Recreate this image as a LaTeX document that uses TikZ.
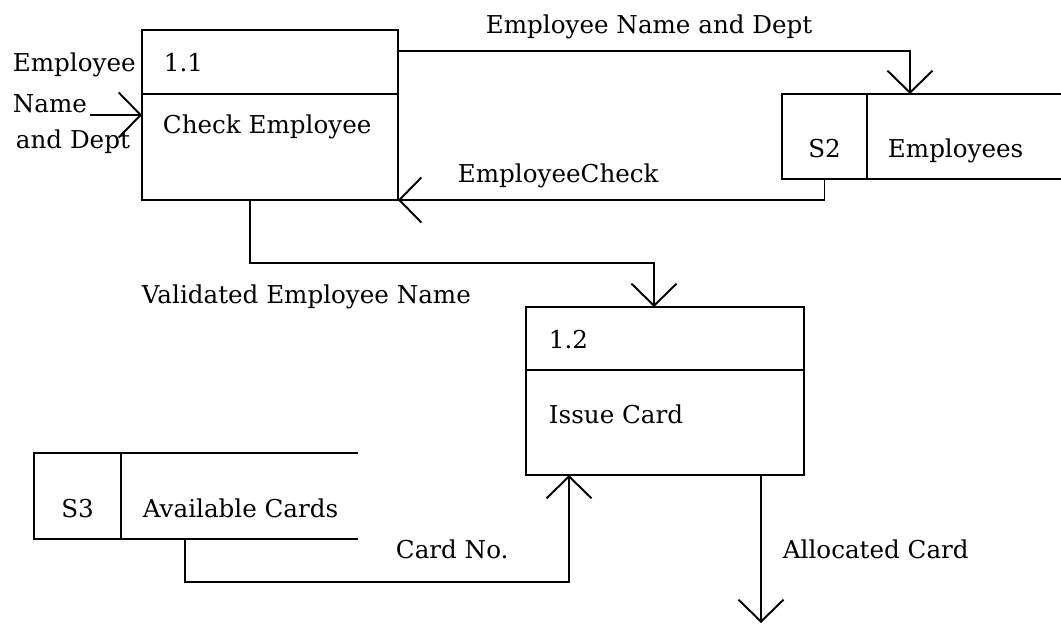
\documentclass[tikz,border=0pt]{standalone}
\usepackage{fontspec}
\setmainfont{DejaVu Serif}
\usetikzlibrary{arrows.meta, positioning}

\begin{document}
\begin{tikzpicture}[x=0.02cm, y=-0.02cm, line width=1.1pt,
  proc/.style={draw, rectangle, inner sep=0pt, outer sep=0pt},
  cell/.style={draw, rectangle, inner sep=0pt, outer sep=0pt, minimum height=1.7cm},
  flow/.style={-{Straight Barb[length=0.44cm, width=0.9cm, line width=1.1pt]}},
  lbl/.style={inner sep=0pt, anchor=base west, font=\fontsize{14pt}{16pt}\selectfont}]
  \useasboundingbox (0,0) rectangle (1061,626);

  % Check Employee
  \node[proc, minimum width=5.12cm, minimum height=3.4cm] (p11) at (270,115) {};
  \draw (p11.north west) ++(0,64) -- ++(256,0);
  \node[lbl] (t11) at (163,71) {1.1};
  \node[lbl] (n11) at (162,133) {Check Employee};

  % Issue Card
  \node[proc, minimum width=5.56cm, minimum height=3.36cm] (p12) at (665,391) {};
  \draw (p12.north west) ++(0,63) -- ++(278,0);
  \node[lbl] (t12) at (548,348) {1.2};
  \node[lbl] (n12) at (548,423) {Issue Card};

  % S2 Employees
  \node[cell, minimum width=1.7cm] (s2id) at (824.5,136.5) {};
  \draw (s2id.north east) -- ++(194,0);
  \draw (s2id.south east) -- ++(194,0);
  \node[lbl, anchor=base] (t2) at (824.5,157) {S2};
  \node[lbl] (n2) at (887,157) {Employees};

  % S3 Available Cards
  \node[cell, minimum width=1.74cm, minimum height=1.72cm] (s3id) at (77.5,496) {};
  \draw (s3id.north east) -- ++(237,0);
  \draw (s3id.south east) -- ++(237,0);
  \node[lbl, anchor=base] (t3) at (77.5,517) {S3};
  \node[lbl] (n3) at (142,517) {Available Cards};

  % flows
  \coordinate (in) at (90,115);
  \coordinate (out) at (761,623);
  \draw[flow] (in) -- (p11.west);
  \node[lbl] (f0a) at (12,71) {Employee};
  \node[lbl] (f0b) at (12,112) {Name};
  \node[lbl] (f0c) at (15,148) {and Dept};

  \draw[flow] ([yshift=-0.42cm]p11.north east) -| ([xshift=0.86cm]s2id.north east);
  \node[lbl] (f1) at (485,33) {Employee Name and Dept};

  \draw[flow] (s2id.south) |- (p11.south east);
  \node[lbl] (f2) at (457,182) {EmployeeCheck};

  \draw[flow] ([xshift=-0.4cm]p11.south) -- ++(0,63) -| ([xshift=-0.22cm]p12.north);
  \node[lbl] (f3) at (141,303) {Validated Employee Name};

  \draw[flow] ([xshift=1.28cm]s3id.south east) -- ++(0,43) -| ([xshift=0.86cm]p12.south west);
  \node[lbl] (f4) at (395,558) {Card No.};

  \draw[flow] ([xshift=4.7cm]p12.south west) -- (out);
  \node[lbl] (f5) at (782,558) {Allocated Card};
\end{tikzpicture}
\end{document}
